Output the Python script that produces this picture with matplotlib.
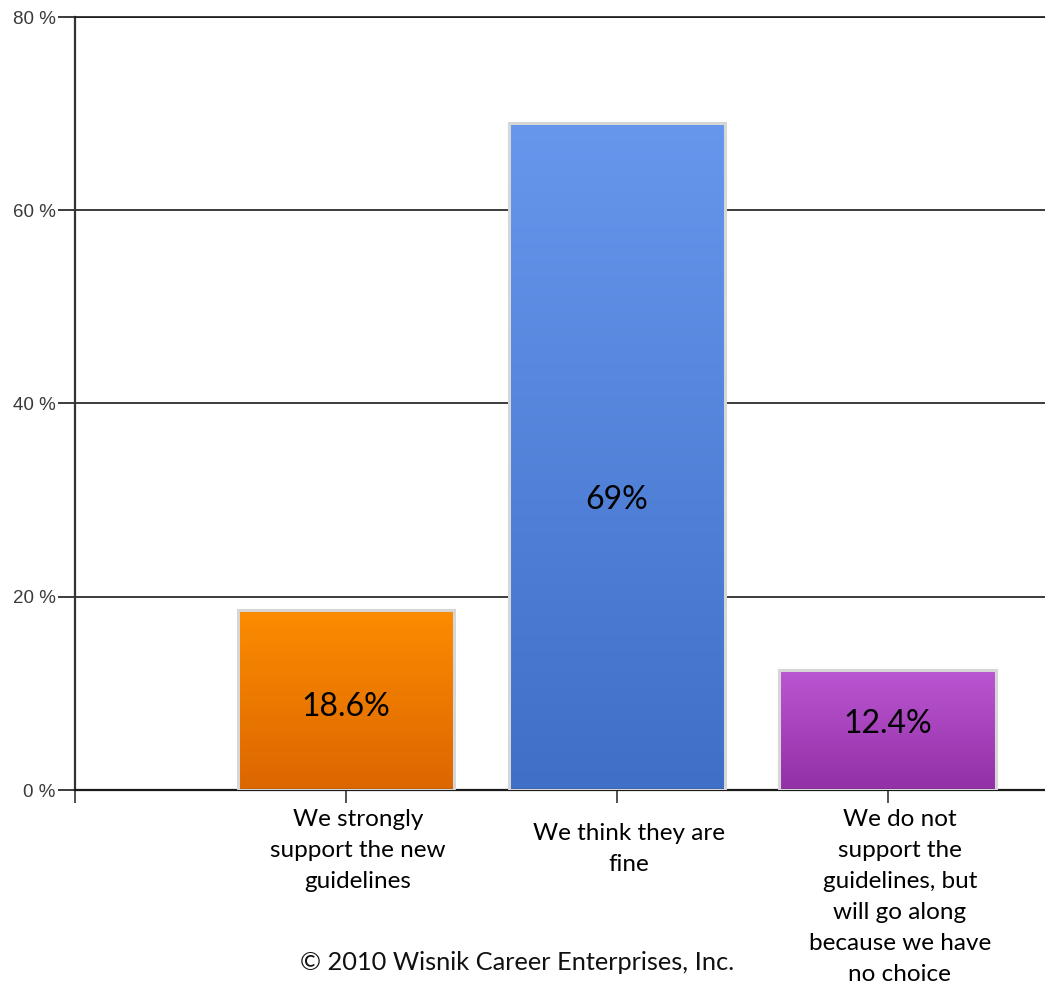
import numpy as np
import matplotlib.pyplot as plt
import matplotlib.transforms as mtransforms
from matplotlib.colors import LinearSegmentedColormap
from matplotlib.patches import Rectangle

# survey responses
categories = ["We strongly\nsupport the new\nguidelines",
              "We think they are\nfine",
              "We do not\nsupport the\nguidelines, but\nwill go along\nbecause we have\nno choice"]
values = [18.6, 69.0, 12.4]
value_labels = ["18.6%", "69%", "12.4%"]
yticks = [0, 20, 40, 60, 80]

# top / bottom colours of each bar's gradient
grad_colors = [("#fc8c00", "#dc6600"),
               ("#6697ed", "#3f6fc6"),
               ("#bb56d2", "#9230a6")]

# where the value text sits, as a fraction of the bar height
label_frac = [0.46, 0.435, 0.55]
# extra downward nudge (px) of each category label
label_drop = [0, 14, 0]

label_font = ["Lato", "DejaVu Sans"]

fig = plt.figure(figsize=(10.45, 9.88), dpi=100)
ax = fig.add_axes([75/1045, 1 - 790/988, 970/1045, 773/988])

xpos = np.arange(len(values))
width = 0.80

for y in yticks[1:]:
    ax.axhline(y, color="#1a1a1a", lw=1.2, zorder=1)

for x, v, (ctop, cbot), lab, fr in zip(xpos, values, grad_colors,
                                       value_labels, label_frac):
    cmap = LinearSegmentedColormap.from_list("g", [cbot, ctop])
    grad = np.linspace(0, 1, 256).reshape(-1, 1)
    ax.imshow(grad, cmap=cmap, origin="lower", aspect="auto",
              extent=[x - width/2, x + width/2, 0, v], zorder=2)
    ax.add_patch(Rectangle((x - width/2, 0), width, v, fill=False,
                           edgecolor="#d6d6d6", lw=2.2, zorder=3))
    ax.text(x, v*fr, lab, ha="center", va="center",
            fontsize=23, family=label_font, color="black", zorder=4)

ax.set_xlim(-1.0, 2.58)
ax.set_ylim(0, 80)

ax.set_xticks([-1] + list(xpos))
ax.set_xticklabels([""] + categories, fontsize=17.5, family=label_font,
                   linespacing=1.58, va="top")
ax.tick_params(axis="x", length=9, width=1.2, color="#333333", pad=5)
for t, d in zip(ax.get_xticklabels(), [0] + label_drop):
    shift = mtransforms.ScaledTranslation(12/100, -d/100, fig.dpi_scale_trans)
    t.set_transform(t.get_transform() + shift)

ax.set_yticks(yticks)
ax.set_yticklabels([f"{t} %" for t in yticks], fontsize=13.5,
                   family=["Liberation Sans"], color="#3a3a3a")
ax.tick_params(axis="y", length=12, width=1.2, color="#1a1a1a", pad=2)

ax.spines["right"].set_visible(False)
ax.spines["top"].set_color("#1a1a1a")
ax.spines["top"].set_linewidth(1.2)
ax.spines["left"].set_color("#333333")
ax.spines["left"].set_linewidth(1.6)
ax.spines["bottom"].set_color("#1a1a1a")
ax.spines["bottom"].set_linewidth(1.6)

fig.text(517/1045, 1 - 962/988, "\u00a9 2010 Wisnik Career Enterprises, Inc.",
         ha="center", va="center", fontsize=18.3, family=label_font,
         color="#111111")

fig.savefig("out.png", dpi=100)
